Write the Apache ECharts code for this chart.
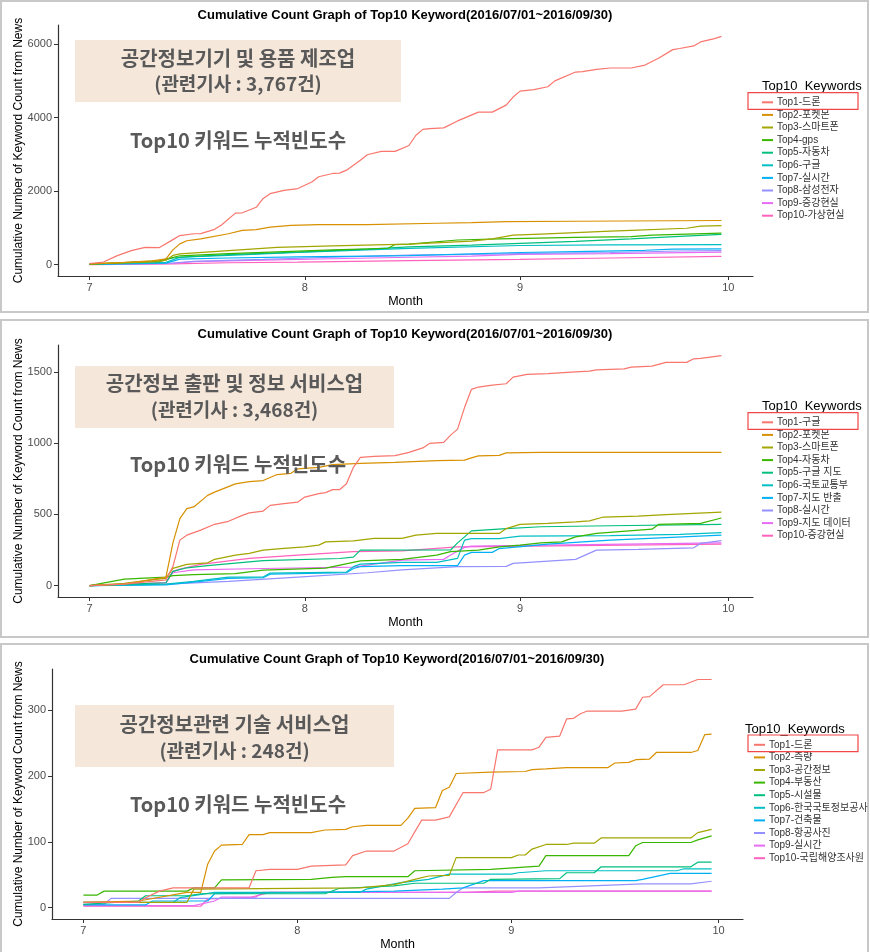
<!DOCTYPE html>
<html><head><meta charset="utf-8">
<script src="https://cdn.jsdelivr.net/npm/echarts@6/dist/echarts.min.js"></script>
<style>html,body{margin:0;padding:0;background:#fff}#c{width:870px;height:952px}</style>
</head><body><div id="c"></div>
<script>
// ---------- DATA (x = day index from 2016-07-01, y = cumulative count) ----------
const MONTH_TICKS = [0, 31, 62, 92];
const MONTH_LABELS = ['7', '8', '9', '10'];

const P1_NAMES = ['Top1-드론','Top2-포켓몬','Top3-스마트폰','Top4-gps','Top5-자동차','Top6-구글','Top7-실시간','Top8-삼성전자','Top9-증강현실','Top10-가상현실'];
const P1_YTICKS = [0, 2000, 4000, 6000];
const p1_top1 = [[0,30],[2,70],[4,245],[6,380],[8,470],[10,460],[12,680],[13,790],[15,840],[16,845],[18,960],[19,1080],[21,1400],[22,1410],[24,1560],[25,1800],[26,1930],[28,2020],[30,2070],[32,2250],[33,2390],[35,2480],[36,2490],[37,2570],[39,2840],[40,2990],[42,3080],[44,3080],[46,3240],[47,3520],[48,3680],[49,3700],[51,3720],[53,3910],[56,4150],[58,4150],[60,4340],[61,4560],[62,4720],[64,4760],[66,4840],[67,5000],[70,5240],[71,5250],[73,5310],[75,5350],[78,5350],[80,5430],[82,5620],[84,5850],[85,5880],[87,5950],[88,6060],[90,6150],[91,6210]];
const p1_top2 = [[0,20],[5,60],[9,100],[11,155],[12,400],[13,565],[14,650],[16,700],[20,840],[22,930],[24,950],[26,1020],[29,1065],[33,1090],[40,1090],[50,1125],[55,1140],[60,1170],[70,1180],[91,1200]];
const p1_top3 = [[0,20],[10,80],[11,120],[12,250],[13,290],[20,380],[27,470],[35,510],[46,560],[55,640],[58,700],[61,800],[65,830],[75,910],[78,930],[86,990],[88,1045],[91,1060]];
const p1_top4 = [[0,10],[10,100],[11,150],[13,240],[20,300],[28,355],[35,400],[43,445],[44,545],[46,560],[53,670],[59,700],[70,740],[78,760],[81,800],[91,855]];
const p1_top5 = [[0,10],[10,90],[12,180],[14,210],[20,270],[30,340],[40,420],[46,480],[55,530],[62,580],[70,630],[78,700],[85,770],[91,820]];
const p1_top6 = [[0,10],[11,60],[13,200],[20,250],[30,330],[40,400],[46,440],[62,520],[75,535],[91,545]];
const p1_top7 = [[0,5],[11,40],[13,150],[20,180],[30,210],[40,230],[46,245],[62,330],[70,355],[80,390],[84,420],[91,430]];
const p1_top8 = [[0,5],[11,30],[15,90],[25,140],[35,200],[46,260],[55,280],[62,300],[75,330],[85,370],[91,380]];
const p1_top9 = [[0,5],[12,30],[15,80],[25,120],[35,160],[46,200],[55,230],[62,280],[75,300],[91,340]];
const p1_top10 = [[0,0],[12,20],[20,50],[30,70],[46,110],[62,140],[75,180],[91,225]];

const P2_NAMES = ['Top1-구글','Top2-포켓몬','Top3-스마트폰','Top4-자동차','Top5-구글 지도','Top6-국토교통부','Top7-지도 반출','Top8-실시간','Top9-지도 데이터','Top10-증강현실'];
const P2_YTICKS = [0, 500, 1000, 1500];
const p2_top1 = [[0,0],[5,10],[11,40],[12,133],[13,319],[14,354],[16,389],[18,430],[20,451],[22,493],[23,510],[25,523],[26,563],[28,575],[30,586],[31,621],[33,645],[34,652],[35,673],[36,673],[37,714],[38,830],[39,900],[41,907],[44,912],[46,935],[48,966],[49,998],[51,1005],[52,1056],[53,1098],[54,1249],[55,1377],[56,1393],[58,1407],[60,1416],[61,1463],[63,1482],[66,1487],[70,1500],[72,1505],[73,1514],[77,1521],[78,1533],[81,1540],[83,1566],[86,1566],[87,1591],[88,1594],[91,1614]];
const p2_top2 = [[0,0],[5,10],[11,60],[12,300],[13,470],[14,540],[15,552],[17,633],[18,656],[21,714],[23,730],[25,737],[27,779],[29,788],[30,819],[33,830],[35,849],[39,858],[44,865],[50,877],[54,880],[55,896],[56,910],[59,914],[60,931],[65,935],[91,935]];
const p2_top3 = [[0,0],[5,15],[11,52],[12,121],[14,149],[17,160],[18,184],[21,214],[23,226],[25,249],[28,261],[31,272],[33,284],[34,307],[38,314],[41,331],[45,331],[47,354],[50,366],[59,366],[60,400],[62,430],[66,436],[70,447],[72,454],[74,481],[79,488],[83,498],[91,516]];
const p2_top4 = [[0,0],[5,45],[11,60],[12,70],[15,77],[21,84],[25,109],[34,122],[39,174],[45,184],[50,214],[52,238],[56,249],[59,272],[62,284],[65,300],[68,307],[70,342],[73,366],[81,396],[82,430],[88,436],[91,474]];
const p2_top5 = [[0,0],[11,20],[12,100],[14,125],[17,140],[25,175],[36,190],[38,200],[39,249],[52,250],[53,300],[55,384],[60,400],[65,413],[75,420],[91,430]];
const p2_top6 = [[0,0],[11,10],[15,30],[20,60],[25,60],[26,88],[37,95],[38,133],[39,151],[45,163],[50,163],[53,191],[54,319],[55,330],[59,330],[62,347],[75,350],[85,360],[91,372]];
const p2_top7 = [[0,0],[11,5],[16,30],[20,50],[25,55],[26,80],[37,90],[38,120],[39,133],[45,140],[53,140],[54,214],[55,233],[58,233],[59,260],[66,291],[75,319],[91,354]];
const p2_top8 = [[0,0],[11,10],[20,30],[30,60],[40,90],[45,110],[53,133],[60,135],[61,156],[70,184],[73,249],[79,254],[87,265],[88,296],[91,316]];
const p2_top9 = [[0,0],[11,20],[12,90],[15,110],[25,120],[38,130],[45,179],[51,184],[52,214],[54,268],[55,277],[91,300]];
const p2_top10 = [[0,0],[11,20],[12,100],[13,116],[16,149],[23,191],[30,214],[38,238],[45,244],[53,272],[91,291]];

const P3_NAMES = ['Top1-드론','Top2-측량','Top3-공간정보','Top4-부동산','Top5-시설물','Top6-한국국토정보공사','Top7-건축물','Top8-항공사진','Top9-실시간','Top10-국립해양조사원'];
const P3_YTICKS = [0, 100, 200, 300];
const p3_top1 = [[0,8],[8,8],[9,15],[11,25],[13,30],[24,30],[25,56],[27,58],[31,58],[33,63],[38,65],[39,79],[41,86],[45,86],[47,97],[49,133],[51,133],[53,138],[55,175],[58,175],[59,180],[60,240],[65,240],[66,244],[67,259],[69,261],[70,287],[71,288],[72,295],[73,299],[78,299],[80,302],[81,320],[82,321],[84,339],[87,339],[89,347],[91,347]];
const p3_top2 = [[0,8],[8,10],[15,23],[17,23],[18,66],[19,86],[20,95],[23,96],[24,111],[26,111],[27,114],[33,114],[35,118],[38,119],[39,123],[41,125],[46,125],[47,136],[48,151],[51,152],[52,178],[53,183],[54,204],[59,206],[64,207],[65,210],[67,211],[70,213],[76,213],[77,220],[79,221],[80,225],[82,226],[83,236],[88,236],[89,239],[90,263],[91,264]];
const p3_top3 = [[0,8],[15,8],[16,28],[40,30],[45,35],[48,43],[50,48],[53,49],[54,76],[62,76],[63,80],[64,80],[65,89],[67,96],[70,96],[71,98],[74,98],[75,106],[88,106],[89,114],[91,119]];
const p3_top4 = [[0,19],[2,19],[3,25],[15,25],[16,30],[19,30],[20,42],[33,43],[36,46],[38,47],[47,47],[48,56],[59,58],[66,63],[67,79],[79,79],[80,94],[81,99],[88,99],[89,103],[91,109]];
const p3_top5 = [[0,5],[8,10],[9,18],[15,18],[17,21],[35,21],[37,29],[45,33],[48,37],[58,37],[59,43],[69,44],[70,53],[74,53],[75,62],[88,62],[89,69],[91,69]];
const p3_top6 = [[0,8],[13,8],[14,15],[19,23],[40,23],[41,28],[46,38],[50,43],[53,51],[62,51],[63,53],[67,56],[86,56],[87,59],[91,59]];
const p3_top7 = [[0,4],[9,4],[10,10],[18,10],[19,21],[45,25],[52,28],[55,30],[58,41],[80,41],[81,43],[85,52],[91,52]];
const p3_top8 = [[0,5],[3,5],[4,14],[53,14],[54,23],[55,30],[66,30],[81,36],[88,36],[91,40]];
const p3_top9 = [[0,3],[16,3],[19,10],[20,16],[25,16],[26,23],[62,23],[63,25],[91,25]];
const p3_top10 = [[0,2],[17,2],[18,13],[24,15],[27,23],[55,23],[60,25],[91,25]];

// ---------- STYLE ----------
const COLORS = ['#F8766D','#D89000','#A3A500','#39B600','#00BF7D','#00BFC4','#00B0F6','#9590FF','#E76BF3','#FF62BC'];
const FONT = '"Liberation Sans", Arial, "Noto Sans CJK KR", sans-serif';
const KFONT = '"Noto Sans CJK KR", sans-serif';
const TITLE = 'Cumulative Count Graph of Top10 Keyword(2016/07/01~2016/09/30)';

const panels = [
  { names: P1_NAMES, data: [p1_top1,p1_top2,p1_top3,p1_top4,p1_top5,p1_top6,p1_top7,p1_top8,p1_top9,p1_top10], yticks: P1_YTICKS,
    ymin: -310, ymax: 6520, grid: {left: 58, top: 25, width: 695, height: 251}, nameGap: 33,
    titleX: 405, titleY: 15, legX: 762, legTitleX: 762, legTitleY: 86, legTop: 96, hl: [748, 92.7],
    box: [75, 40, 326, 62], l1: '공간정보기기 및 용품 제조업', l2: '(관련기사 : 3,767건)', t1y: 58, t2y: 84, t3y: 140, border: [1, 1, 867, 311] },
  { names: P2_NAMES, data: [p2_top1,p2_top2,p2_top3,p2_top4,p2_top5,p2_top6,p2_top7,p2_top8,p2_top9,p2_top10], yticks: P2_YTICKS,
    ymin: -80, ymax: 1688, grid: {left: 58, top: 345, width: 695, height: 252}, nameGap: 33,
    titleX: 405, titleY: 334, legX: 762, legTitleX: 762, legTitleY: 406, legTop: 416, hl: [748, 412.7],
    box: [75, 366, 319, 62], l1: '공간정보 출판 및 정보 서비스업', l2: '(관련기사 : 3,468건)', t1y: 383, t2y: 410, t3y: 464, border: [1, 320, 867, 317] },
  { names: P3_NAMES, data: [p3_top1,p3_top2,p3_top3,p3_top4,p3_top5,p3_top6,p3_top7,p3_top8,p3_top9,p3_top10], yticks: P3_YTICKS,
    ymin: -17.4, ymax: 363, grid: {left: 52, top: 669, width: 691, height: 250}, nameGap: 27,
    titleX: 397, titleY: 659, legX: 754, legTitleX: 745, legTitleY: 729.5, legTop: 738.5, hl: [748, 735],
    box: [75, 705, 319, 62], l1: '공간정보관련 기술 서비스업', l2: '(관련기사 : 248건)', t1y: 724, t2y: 751, t3y: 804, border: [1, 644, 867, 312] }
];

const grids = [], xAxes = [], yAxes = [], series = [], legends = [], graphics = [];
panels.forEach((p, i) => {
  grids.push(Object.assign({containLabel: false}, p.grid));
  xAxes.push({
    type: 'value', gridIndex: i, min: -4.55, max: 95.55,
    name: 'Month', nameLocation: 'middle', nameGap: 19,
    nameTextStyle: {fontSize: 12.5, color: '#000', fontFamily: FONT},
    axisLine: {show: true, onZero: false, lineStyle: {color: '#333', width: 1.2}},
    axisTick: {show: true, length: 4, customValues: MONTH_TICKS, lineStyle: {color: '#333', width: 1}},
    axisLabel: {customValues: MONTH_TICKS, formatter: v => MONTH_LABELS[MONTH_TICKS.indexOf(v)] || '', color: '#4D4D4D', fontSize: 11, margin: 6, fontFamily: FONT},
    splitLine: {show: false}
  });
  yAxes.push({
    type: 'value', gridIndex: i, min: p.ymin, max: p.ymax,
    name: 'Cumulative Number of Keyword Count from News', nameLocation: 'middle', nameGap: p.nameGap,
    nameMoveOverlap: false,
    nameTextStyle: {fontSize: 12, color: '#000', fontFamily: FONT},
    axisLine: {show: true, onZero: false, lineStyle: {color: '#333', width: 1.2}},
    axisTick: {show: true, length: 4, customValues: p.yticks, lineStyle: {color: '#333', width: 1}},
    axisLabel: {customValues: p.yticks, formatter: v => String(v), color: '#4D4D4D', fontSize: 11, margin: 6, fontFamily: FONT},
    splitLine: {show: false}
  });
  p.names.forEach((n, j) => {
    series.push({
      type: 'line', name: n, xAxisIndex: i, yAxisIndex: i, data: p.data[j],
      symbol: 'none', showSymbol: false, silent: true, animation: false,
      lineStyle: {width: 1.2, color: COLORS[j]}, itemStyle: {color: COLORS[j]}, z: 10 - j
    });
  });
  legends.push({
    orient: 'vertical', left: p.legX, top: p.legTop, padding: 0, itemGap: 0,
    itemWidth: 11, itemHeight: 2, icon: 'rect', selectedMode: false,
    data: p.names.map((n, j) => ({name: n, itemStyle: {color: COLORS[j]}})),
    textStyle: {fontSize: 10, lineHeight: 12.6, color: '#333', fontFamily: FONT, padding: [0, 0, 0, -1]}
  });
  graphics.push({type: 'rect', shape: {x: p.border[0], y: p.border[1], width: p.border[2], height: p.border[3]},
    style: {fill: 'none', stroke: '#C8C8C8', lineWidth: 2}, silent: true, z: 0});
  graphics.push({type: 'text', x: p.titleX, y: p.titleY, style: {text: TITLE, fill: '#000', font: 'bold 13px ' + FONT, textAlign: 'center', textVerticalAlign: 'middle'}});
  graphics.push({type: 'text', x: p.legTitleX, y: p.legTitleY, style: {text: 'Top10_Keywords', fill: '#000', font: '13px ' + FONT, textAlign: 'left', textVerticalAlign: 'middle'}});
  graphics.push({type: 'rect', shape: {x: p.hl[0], y: p.hl[1], width: 110, height: 16.6}, style: {fill: 'none', stroke: '#F04848', lineWidth: 1.2}, z: 100});
  graphics.push({type: 'rect', shape: {x: p.box[0], y: p.box[1], width: p.box[2], height: p.box[3]}, style: {fill: '#F6E7DB'}, z: 50});
  const cx = p.box[0] + p.box[2] / 2;
  graphics.push({type: 'text', x: cx, y: p.t1y, z: 51, style: {text: p.l1, fill: '#595959', font: 'bold 20px ' + KFONT, textAlign: 'center', textVerticalAlign: 'middle'}});
  graphics.push({type: 'text', x: cx, y: p.t2y, z: 51, style: {text: p.l2, fill: '#595959', font: 'bold 19px ' + KFONT, textAlign: 'center', textVerticalAlign: 'middle'}});
  graphics.push({type: 'text', x: 238, y: p.t3y, z: 51, style: {text: 'Top10 키워드 누적빈도수', fill: '#595959', font: 'bold 20px ' + KFONT, textAlign: 'center', textVerticalAlign: 'middle'}});
});

const chart = echarts.init(document.getElementById('c'), null, {renderer: 'canvas'});
chart.setOption({
  backgroundColor: '#fff', animation: false,
  grid: grids, xAxis: xAxes, yAxis: yAxes, series: series, legend: legends,
  graphic: {elements: graphics}
});
</script></body></html>
